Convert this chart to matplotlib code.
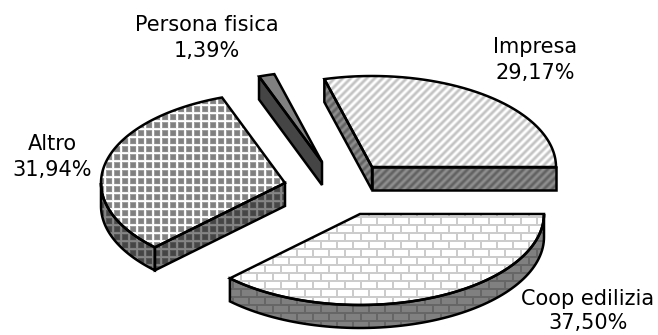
import numpy as np
import matplotlib
matplotlib.use("Agg")
import matplotlib.pyplot as plt
from matplotlib.patches import Polygon

labels = ["Impresa", "Persona fisica", "Altro", "Coop edilizia"]
shares = [29.17, 1.39, 31.94, 37.50]

# apex of every exploded slice, in pixels
apex = [(372, 167), (322, 162), (285, 183), (360, 214)]
label_pos = [(535, 60), (207, 38), (52, 157), (588, 311)]
RX, RY, DEPTH = 184, 91, 23
W, H = 658, 335


def stripes():
    t = np.zeros((8, 8))
    for y in range(8):
        for x in range(8):
            t[y, x] = 0.5 + 0.5 * np.cos(2 * np.pi * (x + y) / 8)
    return t


def grid():
    line = np.array([0.9, 1.0, 0.25, 0, 0, 0, 0, 0.1])
    return np.maximum.outer(line, line)


def bricks():
    t = np.zeros((16, 16))
    t[0:2, :] = 1
    t[8:10, :] = 1
    t[0:8, 0:2] = 1
    t[8:16, 8:10] = 1
    return t


# (tile, tone where tile=0, tone where tile=1)
top_style = [
    (stripes(), 0.76, 1.0),
    (None, 0.5, 0.5),
    (grid(), 0.5, 1.0),
    (bricks(), 1.0, 0.8),
]
side_style = [
    (stripes(), 0.38, 0.56),
    (None, 0.27, 0.27),
    (grid(), 0.27, 0.52),
    (bricks(), 0.5, 0.4),
]


def textured(ax, pts, style):
    tile, lo, hi = style
    if tile is None:
        tile = np.zeros((2, 2))
    n = tile.shape[0]
    full = np.tile(tile, (H // n + 1, W // n + 1))[:H, :W]
    img = ax.imshow(lo + (hi - lo) * full, cmap="gray", vmin=0, vmax=1,
                    extent=(0, W, H, 0), interpolation="nearest", zorder=2)
    patch = Polygon(pts, closed=True, transform=ax.transData)
    img.set_clip_path(patch)
    ax.add_patch(Polygon(pts, closed=True, fill=False, edgecolor="black",
                         linewidth=1.8, joinstyle="miter", zorder=3))


def rim(c, deg):
    t = np.radians(deg)
    return np.column_stack([c[0] + RX * np.cos(t), c[1] - RY * np.sin(t)])


def draw_slice(ax, c, a, b, i):
    cxy = np.array(c, dtype=float)
    drop = np.array([0, DEPTH])
    # radial walls facing the viewer
    for ang, visible in ((a, np.cos(np.radians(a)) > 0), (b, np.cos(np.radians(b)) < 0)):
        if visible:
            p = rim(c, np.array([ang]))[0]
            textured(ax, [cxy, p, p + drop, cxy + drop], side_style[i])
    # outer rim on the lower half
    lo, hi = max(a, 180), min(b, 360)
    if hi > lo:
        arc = rim(c, np.linspace(lo, hi, 80))
        textured(ax, np.vstack([arc, (arc + drop)[::-1]]), side_style[i])
    # top face
    arc = rim(c, np.linspace(a, b, 120))
    textured(ax, np.vstack([[cxy], arc]), top_style[i])


fig = plt.figure(figsize=(W / 100, H / 100), dpi=100)
ax = fig.add_axes([0, 0, 1, 1])

start = 0.0
for i, share in enumerate(shares):
    end = start + share * 3.6
    draw_slice(ax, apex[i], start, end, i)
    start = end

for name, share, (x, y) in zip(labels, shares, label_pos):
    txt = f"{share:.2f}".replace(".", ",")
    ax.text(x, y, f"{name}\n{txt}%", ha="center", va="center", fontsize=15,
            linespacing=1.3 if name == "Coop edilizia" else 1.4, color="black",
            zorder=5, family="DejaVu Sans")

ax.set_xlim(0, W)
ax.set_ylim(H, 0)
ax.axis("off")
fig.savefig("out.png", dpi=100)
plt.close(fig)
